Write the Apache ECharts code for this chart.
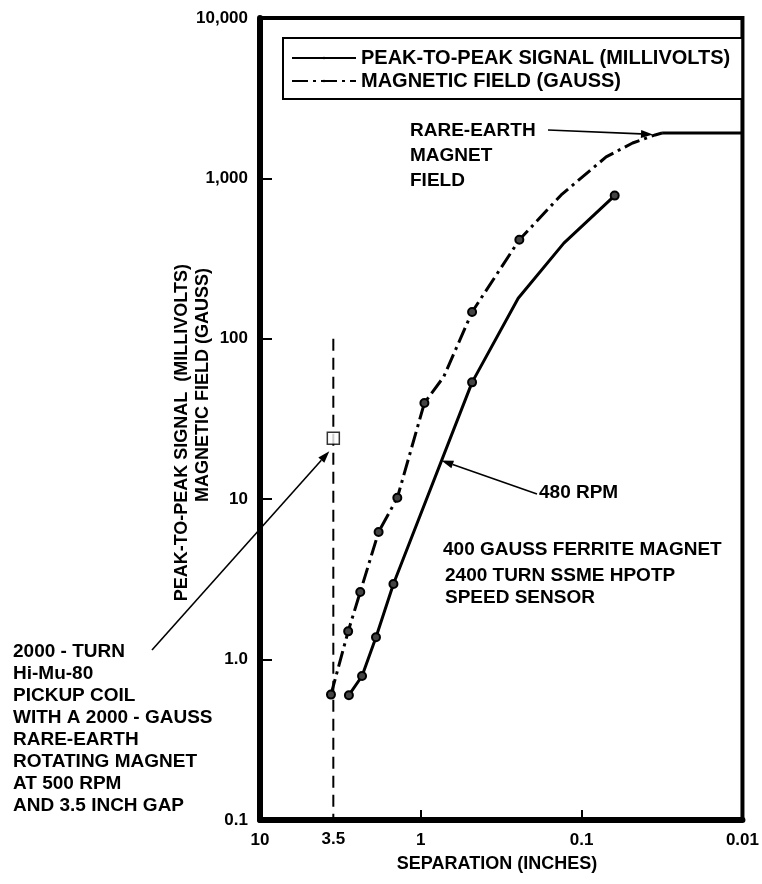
<!DOCTYPE html>
<html>
<head>
<meta charset="utf-8">
<title>Signal and field vs separation</title>
<script src="https://cdn.jsdelivr.net/npm/echarts@6/dist/echarts.min.js"></script>
</head>
<body style="margin:0;background:#fff">
<div id="main" style="width:762px;height:884px;"></div>
<script>
// peak-to-peak signal (millivolts), 400 gauss ferrite magnet at 480 rpm
var signalX = [2.80, 2.32, 1.90, 1.48, 0.48, 0.248, 0.129, 0.0623];
var signalY = [0.60, 0.79, 1.38, 2.96, 53.5, 179, 395, 781];
var signalMark = [1, 1, 1, 1, 1, 0, 0, 1];

// magnetic field (gauss)
var fieldX = [3.62, 2.83, 2.38, 1.83, 1.40, 0.95, 0.72, 0.48, 0.244, 0.134, 0.0704, 0.0482, 0.0349, 0.0316];
var fieldY = [0.605, 1.50, 2.64, 6.25, 10.2, 39.8, 58, 147, 414, 789, 1361, 1663, 1866, 1920];
var fieldMark = [1, 1, 1, 1, 1, 1, 0, 1, 1, 0, 0, 0, 0, 0];

// rare-earth magnet field plateau
var rareX = [0.0316, 0.01];
var rareY = [1920, 1920];

// 2000-turn pickup coil at 3.5 inch gap
var gapX = [3.5, 3.5];
var gapY = [100, 0.1];
var coilPoint = [3.5, 24];

var xTickLabels = ['0.01', '0.1', '1', '10'];      // 10^-2 .. 10^1
var yTickLabels = ['0.1', '1.0', '10', '100', '1,000', '10,000']; // 10^-1 .. 10^4
var xExtraTick = 3.5;

var FONT = 'Liberation Sans, Arial, sans-serif';

function pairs(xs, ys, marks) {
    return xs.map(function (x, i) {
        var item = { value: [x, ys[i]] };
        if (marks && !marks[i]) item.symbol = 'none';
        return item;
    });
}

var chart = echarts.init(document.getElementById('main'));
var option = {
    animation: false,
    backgroundColor: '#fff',
    grid: {
        left: 260, right: 10, top: 18, bottom: 64,
        show: true, borderColor: '#000', borderWidth: 4
    },
    legend: {
        data: ['PEAK-TO-PEAK SIGNAL (MILLIVOLTS)', 'MAGNETIC FIELD (GAUSS)'],
        orient: 'vertical',
        left: 283, top: 38,
        padding: [10, 12, 8, 8],
        itemGap: 3,
        itemWidth: 64, itemHeight: 3,
        borderColor: '#000', borderWidth: 2,
        backgroundColor: '#fff',
        selectedMode: false,
        itemStyle: { color: '#000', borderWidth: 0 },
        textStyle: { color: '#000', fontSize: 20, fontWeight: 'bold', fontFamily: FONT }
    },
    xAxis: {
        type: 'log', logBase: 10, min: 0.01, max: 10, inverse: true,
        axisLine: { lineStyle: { color: '#000', width: 6 } },
        axisTick: { inside: true, length: 10, lineStyle: { color: '#000', width: 2 } },
        splitLine: { show: false },
        axisLabel: {
            margin: 12, color: '#000', fontSize: 17, fontWeight: 'bold', fontFamily: FONT,
            formatter: function (v) { return xTickLabels[Math.round(Math.log10(v)) + 2]; }
        }
    },
    yAxis: {
        type: 'log', logBase: 10, min: 0.1, max: 10000,
        axisLine: { lineStyle: { color: '#000', width: 6 } },
        axisTick: { inside: true, length: 12, lineStyle: { color: '#000', width: 2 } },
        splitLine: { show: false },
        axisLabel: {
            margin: 12, color: '#000', fontSize: 17, fontWeight: 'bold', fontFamily: FONT,
            formatter: function (v) { return yTickLabels[Math.round(Math.log10(v)) + 1]; }
        }
    },
    series: [
        {
            name: 'PEAK-TO-PEAK SIGNAL (MILLIVOLTS)',
            type: 'line',
            data: pairs(signalX, signalY, signalMark),
            symbol: 'circle', symbolSize: 8,
            itemStyle: { color: '#444', borderColor: '#000', borderWidth: 2 },
            lineStyle: { color: '#000', width: 3 },
            z: 4
        },
        {
            name: 'MAGNETIC FIELD (GAUSS)',
            type: 'line',
            data: pairs(fieldX, fieldY, fieldMark),
            symbol: 'circle', symbolSize: 8,
            itemStyle: { color: '#444', borderColor: '#000', borderWidth: 2 },
            lineStyle: { color: '#000', width: 3, type: [16, 5, 3, 5] },
            z: 4
        },
        {
            type: 'line',
            data: pairs(rareX, rareY),
            symbol: 'none',
            lineStyle: { color: '#000', width: 3 }
        },
        {
            type: 'line',
            data: pairs(gapX, gapY),
            symbol: 'none',
            lineStyle: { color: '#000', width: 2, type: [12, 7] }
        },
        {
            type: 'scatter',
            data: [coilPoint],
            symbol: 'rect', symbolSize: 12,
            itemStyle: { color: '#fff', borderColor: '#000', borderWidth: 1.5 },
            z: 5
        },
        {
            // extra 3.5 label on the separation axis
            type: 'scatter',
            data: [[xExtraTick, 0.1]],
            clip: false,
            symbolSize: 0.5,
            itemStyle: { color: '#000' },
            label: {
                show: true, position: 'bottom', distance: 11,
                formatter: String(xExtraTick), opacity: 1,
                color: '#000', fontSize: 17, fontWeight: 'bold', fontFamily: FONT
            },
            emphasis: { disabled: true },
            silent: true
        }
    ]
};
chart.setOption(option);

function px(p) { return chart.convertToPixel({ gridIndex: 0 }, p); }

function arrow(p0, p1) {
    var a = Math.atan2(p1[1] - p0[1], p1[0] - p0[0]);
    var h = 12, w = 4;
    var bx = p1[0] - h * Math.cos(a), by = p1[1] - h * Math.sin(a);
    return [
        { type: 'line', shape: { x1: p0[0], y1: p0[1], x2: bx, y2: by }, style: { stroke: '#000', lineWidth: 1.6 } },
        { type: 'polygon', shape: { points: [p1, [bx - w * Math.sin(a), by + w * Math.cos(a)], [bx + w * Math.sin(a), by - w * Math.cos(a)]] }, style: { fill: '#000' } }
    ];
}

function label(x, y, text, extra) {
    var st = { text: text, fill: '#000', fontSize: 19, fontWeight: 'bold', fontFamily: FONT, lineHeight: 22 };
    for (var k in (extra || {})) st[k] = extra[k];
    return { type: 'text', x: x, y: y, style: st, z: 10 };
}

var coilPx = px(coilPoint);
var graphics = [];
graphics = graphics.concat(arrow([548, 130], px([0.036, 1880])));
graphics = graphics.concat(arrow([537, 494], px([0.745, 17.4])));
graphics = graphics.concat(arrow([152, 650], [coilPx[0] - 4, coilPx[1] + 13]));
graphics.push(label(410, 118, 'RARE-EARTH\nMAGNET\nFIELD', { lineHeight: 25 }));
graphics.push(label(539, 482, '480 RPM'));
graphics.push(label(443, 539, '400 GAUSS FERRITE MAGNET'));
graphics.push(label(445, 565, '2400 TURN SSME HPOTP\nSPEED SENSOR'));
graphics.push(label(13, 641, '2000 - TURN\nHi-Mu-80\nPICKUP COIL\nWITH A 2000 - GAUSS\nRARE-EARTH\nROTATING MAGNET\nAT 500 RPM\nAND 3.5 INCH GAP'));
graphics.push({
    type: 'text', x: 182, y: 264, rotation: Math.PI / 2,
    style: { text: 'PEAK-TO-PEAK SIGNAL  (MILLIVOLTS)', align: 'right', verticalAlign: 'middle', fill: '#000', fontSize: 18, fontWeight: 'bold', fontFamily: FONT }
});
graphics.push({
    type: 'text', x: 203, y: 268, rotation: Math.PI / 2,
    style: { text: 'MAGNETIC FIELD (GAUSS)', align: 'right', verticalAlign: 'middle', fill: '#000', fontSize: 18, fontWeight: 'bold', fontFamily: FONT }
});
graphics.push({
    type: 'text', x: 497, y: 864,
    style: { text: 'SEPARATION (INCHES)', align: 'center', verticalAlign: 'middle', fill: '#000', fontSize: 18, fontWeight: 'bold', fontFamily: FONT }
});
chart.setOption({ graphic: graphics });
</script>
</body>
</html>
